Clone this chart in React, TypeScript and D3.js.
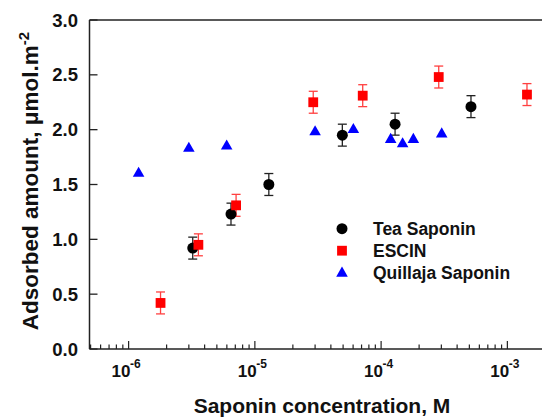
import React, { useEffect, useRef } from "react";
import * as d3 from "d3";

// Tea Saponin (black circles)
const teaX = [3.22e-6, 6.47e-6, 1.29e-5, 4.93e-5, 1.29e-4, 5.15e-4];
const teaY = [0.92, 1.23, 1.5, 1.95, 2.05, 2.21];
const teaErr = [0.1, 0.1, 0.1, 0.1, 0.1, 0.1];

// ESCIN (red squares)
const escinX = [1.79e-6, 3.57e-6, 7.1e-6, 2.9e-5, 7.15e-5, 2.86e-4, 1.43e-3];
const escinY = [0.42, 0.95, 1.31, 2.25, 2.31, 2.48, 2.32];
const escinErr = [0.1, 0.1, 0.1, 0.1, 0.1, 0.1, 0.1];

// Quillaja Saponin (blue triangles)
const quilX = [1.2e-6, 3.0e-6, 5.98e-6, 3.0e-5, 6.03e-5, 1.19e-4, 1.48e-4, 1.8e-4, 3.02e-4];
const quilY = [1.6, 1.83, 1.85, 1.98, 2.0, 1.91, 1.87, 1.91, 1.96];

const yTicks = [0, 0.5, 1.0, 1.5, 2.0, 2.5, 3.0];
const xMajor = ["-6", "-5", "-4", "-3"];

const App = () => {
  const ref = useRef<SVGSVGElement>(null);

  useEffect(() => {
    const svg = d3.select(ref.current);
    svg.selectAll("*").remove();
    const font = "'Liberation Sans', Arial, sans-serif";

    const left = 89.5;
    const top = 20;
    const bottom = 349;

    const x = d3.scaleLog().domain([4.9e-7, 3e-3]).range([left, 567.6]);
    const y = d3.scaleLinear().domain([0, 3]).range([bottom, top]);

    // frame
    svg.append("line").attr("x1", left).attr("x2", 542).attr("y1", top).attr("y2", top)
      .attr("stroke", "#222").attr("stroke-width", 1.5);
    svg.append("line").attr("x1", left).attr("x2", 542).attr("y1", bottom).attr("y2", bottom)
      .attr("stroke", "#222").attr("stroke-width", 1.5);
    svg.append("line").attr("x1", left).attr("x2", left).attr("y1", top).attr("y2", bottom)
      .attr("stroke", "#222").attr("stroke-width", 1.5);

    // y ticks
    const gy = svg.append("g");
    yTicks.forEach((t) => {
      gy.append("line").attr("x1", left).attr("x2", left + 8).attr("y1", y(t)).attr("y2", y(t))
        .attr("stroke", "#222").attr("stroke-width", 1.3);
      gy.append("text").attr("x", 78).attr("y", y(t) + 6.5).attr("text-anchor", "end")
        .attr("font-family", font).attr("font-weight", "bold").style("font-size", "18.5px")
        .attr("fill", "#111").text(t.toFixed(1));
    });

    // x ticks (log, inward)
    const gx = svg.append("g");
    const minor: number[] = [];
    for (let e = -7; e <= -3; e++) {
      for (let m = 1; m <= 9; m++) {
        const v = m * Math.pow(10, e);
        if (v >= 4.95e-7 && x(v) <= 542) minor.push(v);
      }
    }
    minor.forEach((v) => {
      const isMajor = Math.abs(Math.log10(v) - Math.round(Math.log10(v))) < 1e-9;
      gx.append("line").attr("x1", x(v)).attr("x2", x(v)).attr("y1", bottom)
        .attr("y2", bottom - (isMajor ? 8 : 4.5)).attr("stroke", "#222").attr("stroke-width", 1.2);
    });
    xMajor.forEach((e) => {
      const cx = x(Math.pow(10, +e));
      const g = gx.append("text").attr("y", 376.5).attr("font-family", font)
        .attr("font-weight", "bold").attr("fill", "#111");
      g.append("tspan").attr("x", cx - 17).style("font-size", "17px").text("10");
      g.append("tspan").attr("x", cx + 1.5).attr("y", 368).style("font-size", "12px").text(e);
    });

    // axis titles
    svg.append("text").attr("x", 322).attr("y", 413).attr("text-anchor", "middle")
      .attr("font-family", font).attr("font-weight", "bold").style("font-size", "21px")
      .attr("fill", "#111").text("Saponin concentration, M");
    const yt = svg.append("text").attr("transform", "translate(38,181) rotate(-90)")
      .attr("text-anchor", "middle").attr("font-family", font).attr("font-weight", "bold")
      .attr("fill", "#111").style("font-size", "22.5px");
    yt.append("tspan").text("Adsorbed amount, \u03bcmol.m");
    yt.append("tspan").style("font-size", "15px").attr("dy", -9).text("-2");

    // error bars
    const errBars = (xs: number[], ys: number[], es: number[], color: string) => {
      const g = svg.append("g").attr("stroke", color).attr("stroke-width", 1.3).attr("fill", "none");
      xs.forEach((xv, i) => {
        const cx = x(xv);
        const y1 = y(ys[i] - es[i]);
        const y2 = y(ys[i] + es[i]);
        g.append("line").attr("x1", cx).attr("x2", cx).attr("y1", y1).attr("y2", y2);
        g.append("line").attr("x1", cx - 4.5).attr("x2", cx + 4.5).attr("y1", y1).attr("y2", y1);
        g.append("line").attr("x1", cx - 4.5).attr("x2", cx + 4.5).attr("y1", y2).attr("y2", y2);
      });
    };
    errBars(teaX, teaY, teaErr, "#222");
    errBars(escinX, escinY, escinErr, "#ff4040");

    const circle = d3.symbol().type(d3.symbolCircle).size(95)();
    const square = d3.symbol().type(d3.symbolSquare).size(96)();
    const tri = d3.symbol().type(d3.symbolTriangle).size(58)();

    const pts = (xs: number[], ys: number[], path: string | null, color: string) => {
      svg.append("g").selectAll("path").data(xs).enter().append("path")
        .attr("d", path).attr("fill", color)
        .attr("transform", (d, i) => `translate(${x(d)},${y(ys[i])})`);
    };
    pts(quilX, quilY, tri, "#0000ff");
    pts(teaX, teaY, circle, "#000");
    pts(escinX, escinY, square, "#ff0000");

    // legend
    const legend = [
      { label: "Tea Saponin", path: circle, color: "#000", cy: 228.7 },
      { label: "ESCIN", path: square, color: "#ff0000", cy: 250.7 },
      { label: "Quillaja Saponin", path: tri, color: "#0000ff", cy: 273.3 },
    ];
    legend.forEach((l) => {
      svg.append("path").attr("d", l.path).attr("fill", l.color)
        .attr("transform", `translate(342,${l.cy})`);
      svg.append("text").attr("x", 373).attr("y", l.cy + 6).attr("font-family", font)
        .attr("font-weight", "bold").style("font-size", "17.5px").attr("fill", "#111").text(l.label);
    });
  }, []);

  return (
    <svg ref={ref} width={542} height={418} style={{ position: "absolute", left: 0, top: 0 }} />
  );
};

export default App;
